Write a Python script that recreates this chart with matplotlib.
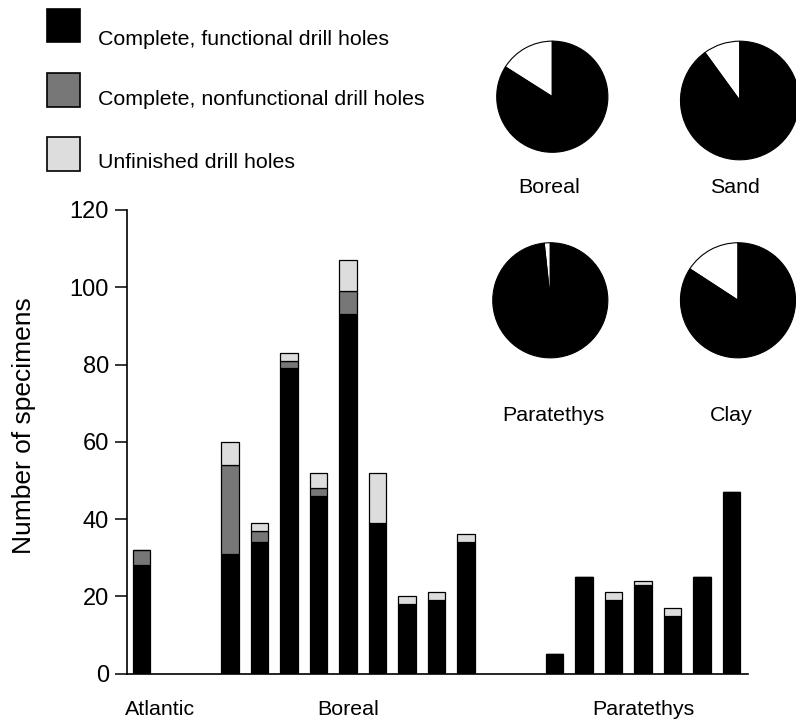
import matplotlib
matplotlib.use("Agg")
import matplotlib.pyplot as plt
import matplotlib.patches as mpatches
import matplotlib.transforms as mtransforms
import numpy as np

plt.rcParams['font.family'] = ['Liberation Sans', 'DejaVu Sans']

# drill hole counts per sample, grouped by region
groups = ["Atlantic", "Boreal", "Paratethys"]
group_sizes = [1, 9, 7]
functional = [28, 31, 34, 79, 46, 93, 39, 18, 19, 34, 5, 25, 19, 23, 15, 25, 47]
nonfunctional = [4, 23, 3, 2, 2, 6, 0, 0, 0, 0, 0, 0, 0, 0, 0, 0, 0]
unfinished = [0, 6, 2, 2, 4, 8, 13, 2, 2, 2, 0, 0, 2, 1, 2, 0, 0]

# share of functional vs. other drill holes (%)
pie_names = ["Boreal", "Sand", "Paratethys", "Clay"]
pie_functional = [84, 90, 98.3, 84.2]
pie_other = [16, 10, 1.7, 15.8]

legend_labels = ["Complete, functional drill holes",
                 "Complete, nonfunctional drill holes",
                 "Unfinished drill holes"]
colors = ["#000000", "#777777", "#dddddd"]

W, H = 796, 725


def fx(px):
    return px / W


def fy(py):
    return 1 - py / H


# bar positions: two empty slots between regions
positions = []
start = 0
for n in group_sizes:
    positions += list(range(start, start + n))
    start += n + 2
positions = np.array(positions)

fig = plt.figure(figsize=(W / 100, H / 100), dpi=100)
ax = fig.add_axes([fx(127), fy(673.5), fx(748) - fx(127), fy(210) - fy(673.5)])

bottom = np.zeros(len(functional))
for vals, col in zip([functional, nonfunctional, unfinished], colors):
    vals = np.array(vals, dtype=float)
    ax.bar(positions, vals, width=0.58, bottom=bottom, color=col,
           edgecolor="black", linewidth=0.9)
    bottom += vals

ax.set_xlim(-0.49, 20.56)
ax.set_ylim(0, 120)
ax.set_yticks(range(0, 121, 20))
ax.spines['top'].set_visible(False)
ax.spines['right'].set_visible(False)
ax.spines['left'].set_linewidth(1.2)
ax.spines['bottom'].set_linewidth(1.2)
ax.tick_params(axis='y', length=8.6, width=1.1, pad=4.3, labelsize=17)
ax.set_xticks([])

# region names under the bars
trans = mtransforms.blended_transform_factory(ax.transData, fig.transFigure)
first = 0
for name, n in zip(groups, group_sizes):
    pos = positions[first:first + n]
    xc = pos.mean() if n > 1 else pos[0] + 0.63
    ax.text(xc, fy(715), name, transform=trans, ha='center', va='baseline',
            fontsize=15.4, clip_on=False)
    first += n

fig.text(fx(24), fy(426), "Number of specimens", rotation=90,
         ha='center', va='center', fontsize=19)

# legend
for i, (lab, col) in enumerate(zip(legend_labels, colors)):
    top = [9, 73.3, 137.3][i]
    rect = mpatches.Rectangle((fx(46.7), fy(top + 33.4)), fx(33.3), 33.4 / H,
                              transform=fig.transFigure, facecolor=col,
                              edgecolor="black", linewidth=1.2)
    fig.add_artist(rect)
    fig.text(fx(98), fy([45, 105, 168.3][i]), lab, ha='left', va='baseline',
             fontsize=15.4)

# pies: centre x, centre y, radius in pixels; label baseline
pie_geom = [(552.3, 96.7, 56.7, 549, 192.7),
            (739.8, 100.5, 60.5, 734.7, 192.7),
            (550.3, 300.3, 58.7, 553.2, 420.7),
            (738.0, 300.3, 58.7, 730.8, 420.7)]
for name, fn, ot, (cx, cy, r, lx, ly) in zip(pie_names, pie_functional,
                                               pie_other, pie_geom):
    pax = fig.add_axes([fx(cx - r), fy(cy + r), 2 * r / W, 2 * r / H])
    pax.pie([ot, fn], colors=["white", "black"], startangle=90,
            counterclock=True, radius=1,
            wedgeprops=dict(edgecolor="black", linewidth=0.8))
    pax.set_xlim(-1.02, 1.02)
    pax.set_ylim(-1.02, 1.02)
    pax.set_aspect('auto')
    fig.text(fx(lx), fy(ly), name, ha='center', va='baseline', fontsize=15.4)

fig.savefig("out.png", dpi=100, facecolor="white")
